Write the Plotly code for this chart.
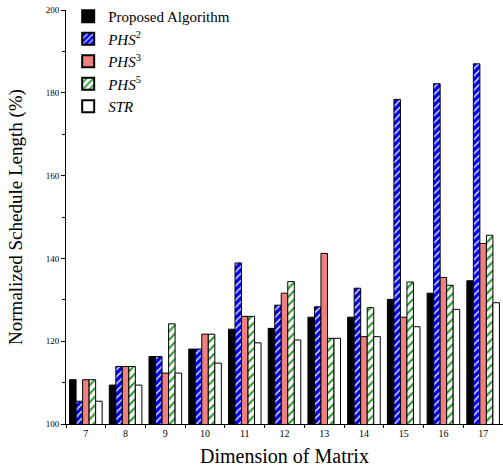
import plotly.graph_objects as go

categories = ["7", "8", "9", "10", "11", "12", "13", "14", "15", "16", "17"]
proposed = [110.7, 109.4, 116.3, 118.1, 122.9, 123.1, 125.8, 125.8, 130.1, 131.6, 134.6]
phs2 = [105.5, 113.9, 116.3, 118.1, 138.9, 128.7, 128.3, 132.8, 178.4, 182.2, 187.0]
phs3 = [110.7, 113.9, 112.3, 121.7, 126.0, 131.6, 141.2, 121.1, 125.8, 135.4, 143.6]
phs5 = [110.7, 113.9, 124.2, 121.7, 126.0, 134.4, 120.7, 128.1, 134.3, 133.5, 145.6]
strv = [105.5, 109.4, 112.3, 114.7, 119.6, 120.3, 120.7, 121.1, 123.5, 127.7, 129.3]

font_family = "Liberation Serif, Times New Roman, serif"
line = dict(color="black", width=1)

fig = go.Figure()
fig.add_bar(x=categories, y=proposed, name="Proposed Algorithm",
            marker=dict(color="black", line=line))
fig.add_bar(x=categories, y=phs2, name="<i>PHS</i><sup>2</sup>",
            marker=dict(color="#0000E6", line=line,
                        pattern=dict(shape="/", fgcolor="#D8D8FF", bgcolor="#0000E6",
                                     size=5, solidity=0.3, fillmode="replace")))
fig.add_bar(x=categories, y=phs3, name="<i>PHS</i><sup>3</sup>",
            marker=dict(color="#F08080", line=line))
fig.add_bar(x=categories, y=phs5, name="<i>PHS</i><sup>5</sup>",
            marker=dict(color="white", line=line,
                        pattern=dict(shape="/", fgcolor="#229922", bgcolor="white",
                                     size=6, solidity=0.35, fillmode="replace")))
fig.add_bar(x=categories, y=strv, name="<i>STR</i>",
            marker=dict(color="white", line=line))

fig.update_layout(
    width=503, height=472,
    margin=dict(l=66, r=0, t=10, b=48),
    paper_bgcolor="white", plot_bgcolor="white",
    barmode="group", bargap=0.18, bargroupgap=0,
    font=dict(family=font_family, color="black"),
    showlegend=True,
    legend=dict(x=0.005, y=1.025, xanchor="left", yanchor="top",
                font=dict(size=15, family=font_family),
                bgcolor="rgba(0,0,0,0)", tracegroupgap=0, itemsizing="constant"),
)
fig.update_xaxes(
    type="category", tickson="boundaries", ticks="outside", ticklen=3,
    tickcolor="black", showline=True, linecolor="black", linewidth=1,
    showgrid=False, tickfont=dict(size=10, family=font_family), automargin=False,
    title=dict(text="Dimension of Matrix", font=dict(size=20, family=font_family), standoff=10),
)
fig.update_yaxes(
    range=[100, 200], tickvals=[100, 120, 140, 160, 180, 200],
    ticks="outside", ticklen=4, tickcolor="black",
    minor=dict(tickvals=[110, 130, 150, 170, 190], ticks="outside", ticklen=3, tickcolor="black"),
    showline=True, linecolor="black", linewidth=1, showgrid=False, zeroline=False,
    tickfont=dict(size=9, family=font_family), automargin=False,
    title=dict(text="Normalized Schedule Length (%)", font=dict(size=19, family=font_family), standoff=18),
)

fig.write_html("out.html", config={"displayModeBar": False},
               post_script="document.body.style.margin='0';")
